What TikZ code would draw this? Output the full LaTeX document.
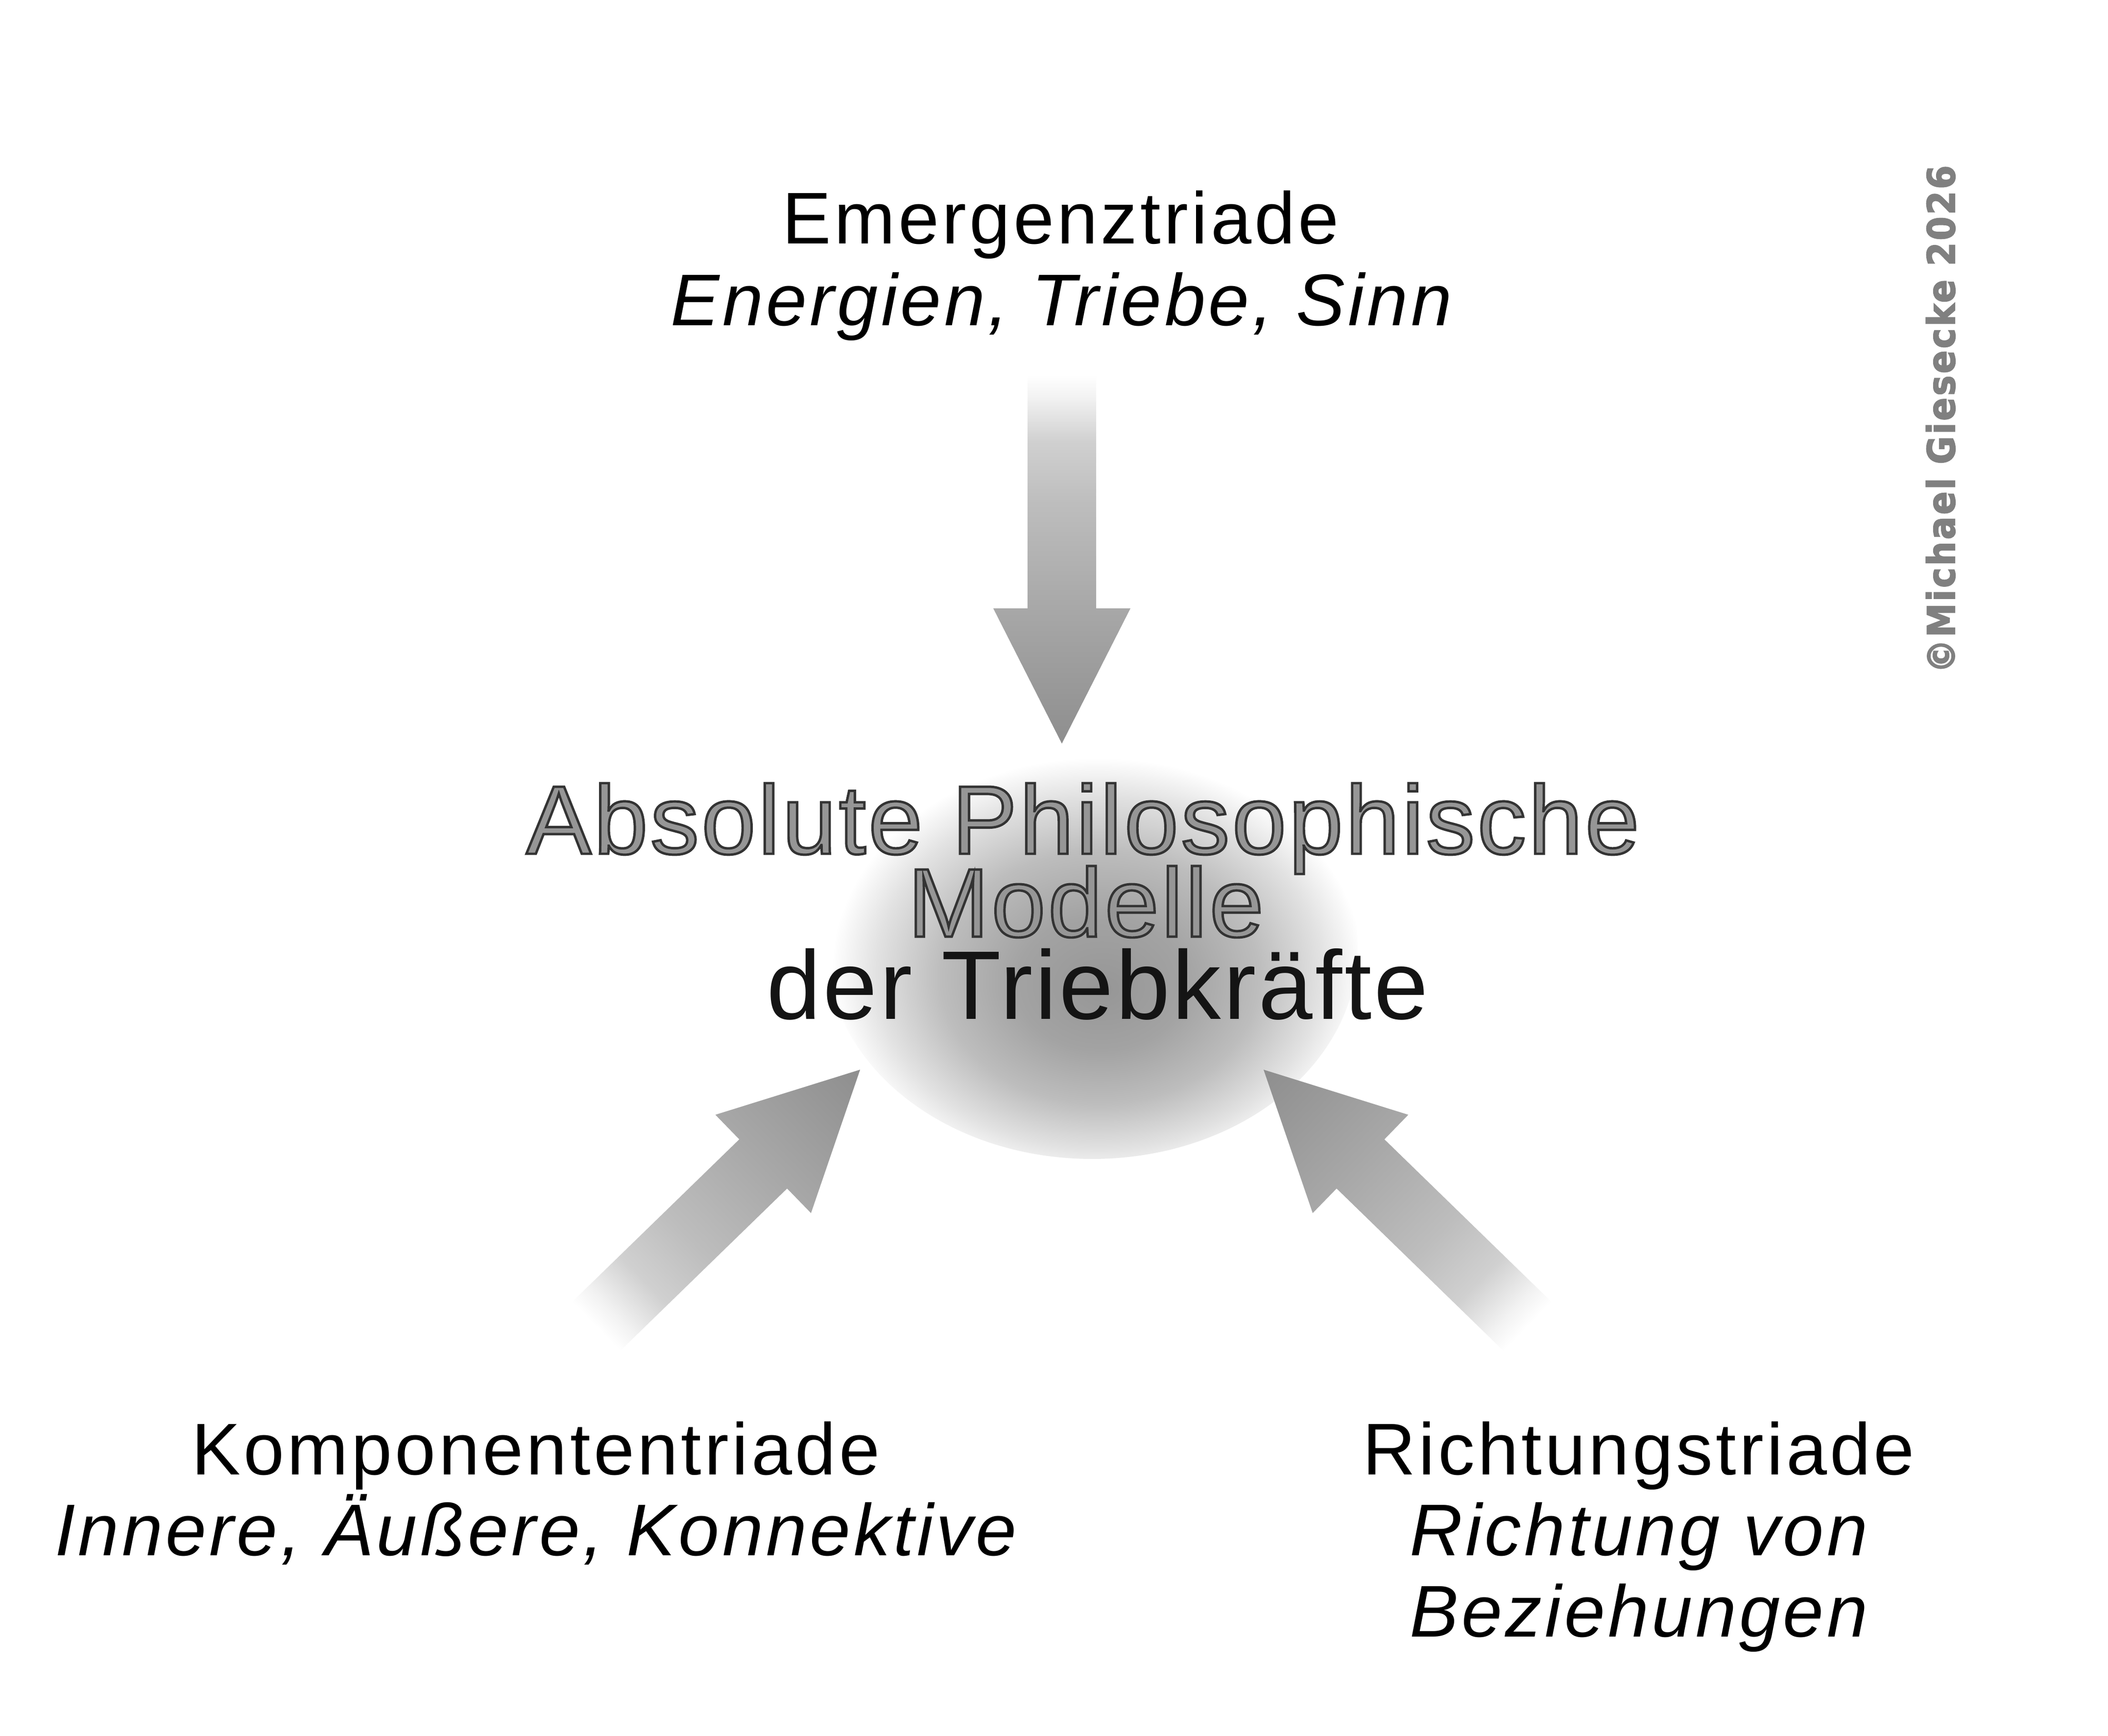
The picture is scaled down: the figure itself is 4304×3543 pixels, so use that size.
\documentclass[tikz,border=0pt]{standalone}
\usepackage{fontspec}
\setmainfont{Liberation Sans}
\newfontfamily\labfont{Liberation Sans}[LetterSpace=4.2]
\newfontfamily\cenfont{Liberation Sans}[LetterSpace=2.5]
\newfontfamily\wmfont{DejaVu Sans Condensed}[LetterSpace=5, FakeBold=2.5]
\definecolor{blobA}{HTML}{969696}
\definecolor{blobB}{HTML}{A3A3A3}
\definecolor{blobC}{HTML}{BDBDBD}
\definecolor{blobD}{HTML}{E2E2E2}
\definecolor{arA}{HTML}{F2F2F2}
\definecolor{arB}{HTML}{D0D0D0}
\definecolor{arC}{HTML}{BDBDBD}
\definecolor{arD}{HTML}{A8A8A8}
\definecolor{arE}{HTML}{8E8E8E}
\definecolor{embgray}{HTML}{969696}
\definecolor{wmgray}{HTML}{808080}
\pgfdeclareradialshading{blobshade}{\pgfpoint{1bp}{-5bp}}{color(0bp)=(blobA); color(8bp)=(blobB); color(15bp)=(blobC); color(21bp)=(blobD); color(25bp)=(white); color(50bp)=(white)}
\pgfdeclarehorizontalshading{arrowshade}{100bp}{color(0bp)=(white); color(25bp)=(white); color(28bp)=(arA); color(34bp)=(arB); color(42.5bp)=(arC); color(56.5bp)=(arD); color(75bp)=(arE); color(100bp)=(arE)}
\newcommand\blockarrow[2]{%
  \begin{scope}[transform canvas={shift={(#1)},rotate=#2}]
    \shade[shading=arrowshade] (0,-70) -- (476,-70) -- (476,-140) -- (752,0) -- (476,140) -- (476,70) -- (0,70) -- cycle;
  \end{scope}}
% outlined (embossed-looking) text: fill with the text colour, stroke dark
\newcommand\embossed[2]{\special{pdf:literal direct 2 Tr #2 w 0.2 G}#1\special{pdf:literal direct 0 Tr 1 w}}
\begin{document}
\begin{tikzpicture}[x=0.01cm,y=0.01cm,
  lab/.style={font={\labfont\fontsize{42.5}{47.5}\selectfont}, anchor=base, inner sep=0pt},
  labit/.style={font={\labfont\itshape\fontsize{42.5}{47.5}\selectfont}, anchor=base, inner sep=0pt},
  cen/.style={font={\cenfont\fontsize{56.6}{60}\selectfont}, anchor=base, inner sep=0pt},
  wm/.style={font={\wmfont\bfseries\fontsize{22}{24}\selectfont}, text=wmgray, inner sep=0pt}]
\useasboundingbox (0,0) rectangle (4304,3543);
\fill[white] (0,0) rectangle (4304,3543);
% central glow
\coordinate (blob) at (2230,1608);
\shade[shading=blobshade] (blob) ellipse [x radius=542, y radius=431];
% arrows
\coordinate (tailT) at (2168,2777);
\coordinate (tailL) at (1217,835);
\coordinate (tailR) at (3119,835);
\blockarrow{tailT}{-90}
\blockarrow{tailL}{44.2}
\blockarrow{tailR}{135.8}
% labels
\node[lab] (emT) at (2166,3045) {Emergenztriade};
\node[labit] (emS) at (2167,2878) {Energien, Triebe, Sinn};
\node[lab] (koT) at (1094,532) {Komponententriade};
\node[labit] (koS) at (1094,367) {Innere, Äußere, Konnektive};
\node[lab] (riT) at (3346,532) {Richtungstriade};
\node[labit] (riS1) at (3346,367) {Richtung von};
\node[labit] (riS2) at (3346,202) {Beziehungen};
% central title (three tightly stacked lines in one node)
\node[cen, text=embgray] (ctitle) at (2211,1800) {%
  \makebox[0pt]{\embossed{Absolute Philosophische}{1.4}}%
  \raisebox{-1.69cm}{\makebox[0pt]{\hspace*{0.12cm}\embossed{Modelle}{1.4}}}%
  \raisebox{-3.37cm}{\makebox[0pt]{\hspace*{0.6cm}\color{black!92}der Triebkräfte}}};
% copyright
\node[wm, rotate=90, anchor=base west] (wmk) at (3991,2168) {©Michael Giesecke 2026};
\end{tikzpicture}
\end{document}
